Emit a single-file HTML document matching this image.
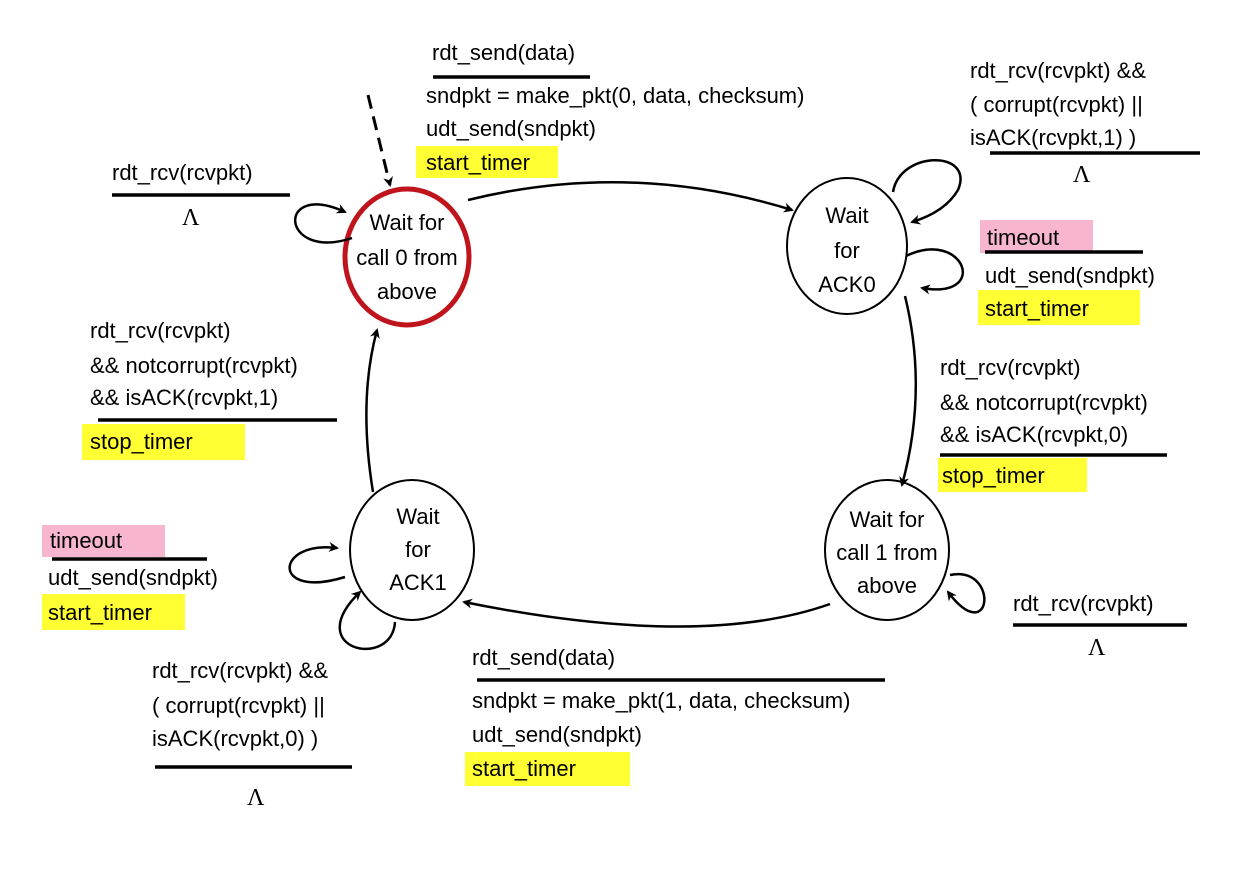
<!DOCTYPE html>
<html><head><meta charset="utf-8"><style>
html,body{margin:0;padding:0;background:#fff;}
svg{display:block;}
text{font-family:"Liberation Sans",Arial,sans-serif;font-size:22px;fill:#000;}
.L{font-family:"Liberation Serif",serif;font-size:24px;}
</style></head><body>
<svg width="1242" height="876" viewBox="0 0 1242 876" xmlns="http://www.w3.org/2000/svg">
<defs>
<marker id="a" markerWidth="10" markerHeight="10" refX="8" refY="5" orient="auto" markerUnits="userSpaceOnUse">
<path d="M0,0 L10,5 L0,10 L3,5 z" fill="#000"/></marker>
</defs>
<!-- highlights -->
<rect x="416" y="146" width="142" height="32" fill="#ffff33"/>
<rect x="980" y="220" width="113" height="33" fill="#f7b5d0"/>
<rect x="978" y="290" width="162" height="35" fill="#ffff33"/>
<rect x="938" y="458" width="149" height="34" fill="#ffff33"/>
<rect x="82" y="424" width="163" height="36" fill="#ffff33"/>
<rect x="42" y="525" width="123" height="32" fill="#f7b5d0"/>
<rect x="42" y="594" width="143" height="36" fill="#ffff33"/>
<rect x="465" y="752" width="165" height="34" fill="#ffff33"/>

<!-- states -->
<ellipse cx="407" cy="257" rx="62" ry="68" fill="none" stroke="#c0141c" stroke-width="5"/>
<ellipse cx="847" cy="246" rx="60" ry="68" fill="none" stroke="#000" stroke-width="2"/>
<ellipse cx="412" cy="550" rx="62" ry="70" fill="none" stroke="#000" stroke-width="2"/>
<ellipse cx="887" cy="550" rx="62" ry="70" fill="none" stroke="#000" stroke-width="2"/>

<g text-anchor="middle" font-size="23">
<text x="407" y="230">Wait for</text><text x="407" y="265">call 0 from</text><text x="407" y="299">above</text>
<text x="847" y="223">Wait</text><text x="847" y="258">for</text><text x="847" y="292">ACK0</text>
<text x="418" y="524">Wait</text><text x="418" y="557">for</text><text x="418" y="590">ACK1</text>
<text x="887" y="527">Wait for</text><text x="887" y="560">call 1 from</text><text x="887" y="593">above</text>
</g>

<!-- arrows -->
<g fill="none" stroke="#000" stroke-width="2.5" marker-end="url(#a)">
<path d="M368,95 L390,185" stroke-dasharray="14,8" stroke-width="3"/>
<path d="M468,200 Q630,160 792,210"/>
<path d="M905,296 Q928,390 902,485"/>
<path d="M830,604 Q700,650 464,602"/>
<path d="M373,492 Q358,400 377,330"/>
<path d="M352,238 C280,262 275,180 345,212"/>
<path d="M893,192 C900,150 975,150 958,190 Q945,212 912,222"/>
<path d="M906,256 C965,228 990,300 922,288"/>
<path d="M345,577 C270,600 275,540 337,548"/>
<path d="M395,622 C392,670 300,650 360,592"/>
<path d="M950,575 C1000,565 992,650 948,592"/>
</g>

<!-- guard lines -->
<g stroke="#000" stroke-width="3.5">
<line x1="433" y1="77" x2="590" y2="77"/>
<line x1="112" y1="195" x2="290" y2="195"/>
<line x1="990" y1="153" x2="1200" y2="153"/>
<line x1="985" y1="252" x2="1143" y2="252"/>
<line x1="940" y1="455" x2="1167" y2="455"/>
<line x1="98" y1="420" x2="337" y2="420"/>
<line x1="52" y1="559" x2="207" y2="559"/>
<line x1="155" y1="767" x2="352" y2="767"/>
<line x1="477" y1="680" x2="885" y2="680"/>
<line x1="1013" y1="625" x2="1187" y2="625"/>
</g>

<!-- labels -->
<text x="432" y="60">rdt_send(data)</text>
<text x="426" y="103">sndpkt = make_pkt(0, data, checksum)</text>
<text x="426" y="136">udt_send(sndpkt)</text>
<text x="426" y="170">start_timer</text>

<text x="112" y="180">rdt_rcv(rcvpkt)</text>
<text class="L" x="182" y="225">Λ</text>

<text x="970" y="78">rdt_rcv(rcvpkt) &amp;&amp;</text>
<text x="970" y="112">( corrupt(rcvpkt) ||</text>
<text x="970" y="145">isACK(rcvpkt,1) )</text>
<text class="L" x="1073" y="182">Λ</text>

<text x="987" y="245">timeout</text>
<text x="985" y="283">udt_send(sndpkt)</text>
<text x="985" y="316">start_timer</text>

<text x="940" y="375">rdt_rcv(rcvpkt)</text>
<text x="940" y="410">&amp;&amp; notcorrupt(rcvpkt)</text>
<text x="940" y="442">&amp;&amp; isACK(rcvpkt,0)</text>
<text x="942" y="483">stop_timer</text>

<text x="90" y="338">rdt_rcv(rcvpkt)</text>
<text x="90" y="373">&amp;&amp; notcorrupt(rcvpkt)</text>
<text x="90" y="405">&amp;&amp; isACK(rcvpkt,1)</text>
<text x="90" y="449">stop_timer</text>

<text x="50" y="548">timeout</text>
<text x="48" y="585">udt_send(sndpkt)</text>
<text x="48" y="620">start_timer</text>

<text x="152" y="678">rdt_rcv(rcvpkt) &amp;&amp;</text>
<text x="152" y="713">( corrupt(rcvpkt) ||</text>
<text x="152" y="746">isACK(rcvpkt,0) )</text>
<text class="L" x="247" y="805">Λ</text>

<text x="472" y="665">rdt_send(data)</text>
<text x="472" y="708">sndpkt = make_pkt(1, data, checksum)</text>
<text x="472" y="742">udt_send(sndpkt)</text>
<text x="472" y="776">start_timer</text>

<text x="1013" y="611">rdt_rcv(rcvpkt)</text>
<text class="L" x="1088" y="655">Λ</text>
</svg>
</body></html>
